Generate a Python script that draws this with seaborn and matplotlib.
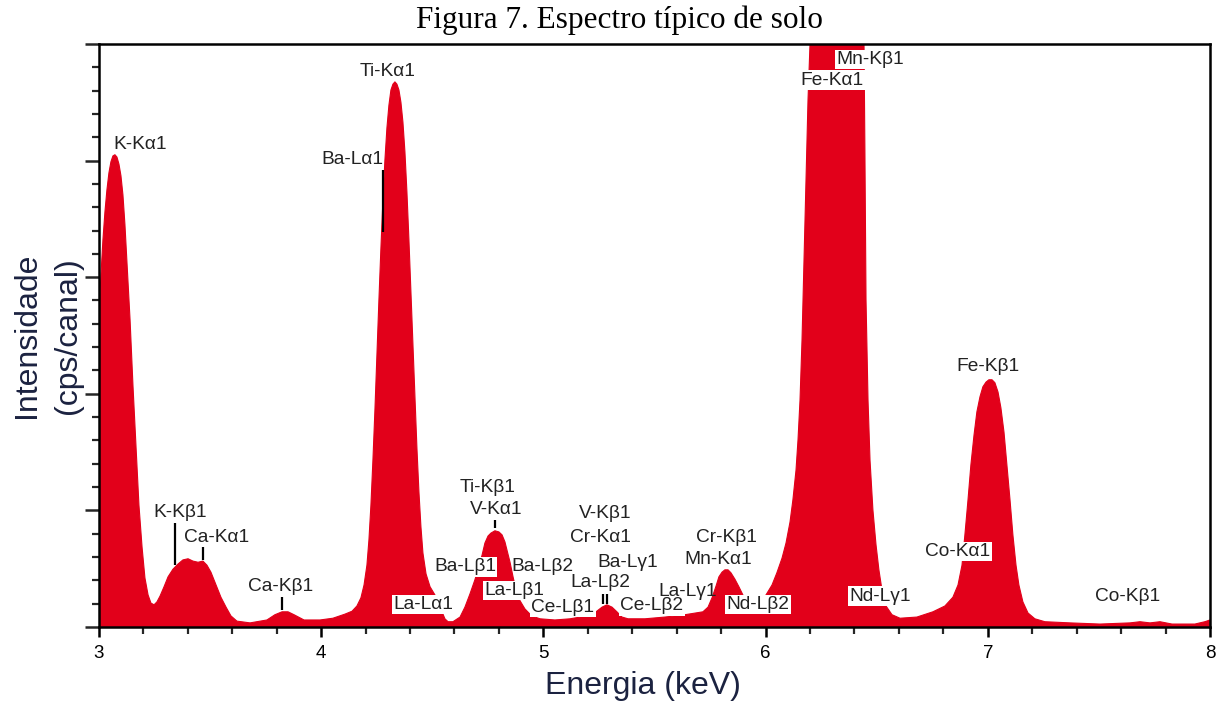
import matplotlib
matplotlib.use("Agg")
import matplotlib.pyplot as plt
import seaborn as sns
from matplotlib.ticker import MultipleLocator, NullFormatter

# spectrum (energy in keV, intensity on a 0-100 scale = full axis height)
energy = [
    # K-Ka1
    3.000, 3.009, 3.018, 3.027, 3.036, 3.045, 3.054, 3.063, 3.072, 3.081, 3.090, 3.099, 3.108,
    3.117, 3.126, 3.140, 3.153, 3.167, 3.180, 3.194, 3.207, 3.221, 3.234, 3.248, 3.261,
    # K-Kb1 / Ca
    3.275, 3.293, 3.311, 3.333, 3.356, 3.378, 3.401, 3.423, 3.446, 3.468, 3.486, 3.504, 3.527,
    3.549, 3.572, 3.594, 3.621, 3.680, 3.756, 3.792, 3.824, 3.851, 3.878, 3.923, 3.995, 4.053,
    # Ti-Ka1
    4.107, 4.139, 4.161, 4.179, 4.193, 4.206, 4.215, 4.224, 4.233, 4.242, 4.251, 4.260, 4.269,
    4.278, 4.287, 4.296, 4.305, 4.314, 4.323, 4.332, 4.341, 4.350, 4.359, 4.368, 4.377, 4.386,
    4.395, 4.404, 4.413, 4.422, 4.431, 4.440, 4.449, 4.458, 4.472, 4.490, 4.512, 4.530, 4.544,
    4.557, 4.571, 4.593,
    # Ti-Kb1 / V-Ka1
    4.625, 4.647, 4.670, 4.692, 4.710, 4.724, 4.737, 4.751, 4.764, 4.782, 4.800, 4.814, 4.827,
    4.836, 4.850, 4.863, 4.877, 4.895, 4.917, 4.940, 4.962, 4.985,
    # 5 - 5.7 keV
    5.052, 5.120, 5.196, 5.237, 5.264, 5.286, 5.309, 5.331, 5.354, 5.381, 5.457, 5.547, 5.637,
    # Mn-Ka1
    5.718, 5.741, 5.759, 5.777, 5.790, 5.804, 5.817, 5.831, 5.844, 5.862, 5.880, 5.903, 5.925,
    5.952, 5.975, 6.002,
    # Fe-Ka1
    6.029, 6.051, 6.074, 6.092, 6.110, 6.123, 6.137, 6.146, 6.155, 6.164, 6.173, 6.182, 6.191,
    6.200, 6.218, 6.326, 6.434, 6.443, 6.447, 6.452, 6.461, 6.470, 6.483, 6.497, 6.510, 6.524,
    6.542, 6.569, 6.605,
    # Fe-Kb1
    6.681, 6.753, 6.807, 6.843, 6.866, 6.884, 6.897, 6.911, 6.924, 6.938, 6.951, 6.965, 6.978,
    6.992, 7.005, 7.019, 7.032, 7.046, 7.059, 7.073, 7.086, 7.100, 7.113, 7.127, 7.140, 7.158,
    7.181, 7.212, 7.257,
    # tail
    7.370, 7.505, 7.640, 7.685, 7.730, 7.775, 7.829, 7.932, 7.977, 8.000,
]
intensity = [
    53.0, 60.4, 66.4, 71.2, 75.0, 77.9, 79.8, 80.8, 81.0, 80.6, 79.4, 77.4, 74.1,
    69.0, 62.6, 52.7, 41.5, 30.7, 20.9, 13.7, 8.4, 5.5, 4.1, 3.8, 4.3,
    5.3, 6.9, 8.6, 9.9, 10.8, 11.5, 11.7, 11.3, 11.1, 11.3, 10.6, 9.4, 7.2,
    5.1, 3.4, 1.9, 1.0, 0.7, 1.2, 2.1, 2.6, 2.6, 2.1, 1.2, 1.2, 1.5,
    2.2, 2.7, 3.6, 5.0, 7.2, 10.6, 14.9, 20.9, 28.6, 37.2, 46.7, 56.1, 65.0,
    73.2, 80.1, 85.6, 89.5, 92.1, 93.1, 93.5, 93.1, 92.1, 90.0, 86.6, 81.5, 74.6,
    66.4, 57.5, 48.4, 39.3, 30.7, 23.2, 17.2, 12.7, 9.1, 6.9, 5.5, 4.3, 2.6,
    1.4, 0.9, 0.9,
    1.7, 3.4, 5.7, 8.1, 10.5, 12.3, 14.4, 15.6, 16.1, 16.5, 16.3, 15.8, 14.6,
    13.2, 11.1, 8.7, 6.3, 4.5, 3.1, 2.2, 1.7, 1.4,
    1.2, 1.4, 1.9, 2.6, 3.4, 3.8, 3.4, 2.6, 1.7, 1.4, 1.4, 1.7, 2.1,
    2.6, 3.4, 5.0, 7.0, 8.6, 9.4, 9.8, 9.8, 9.3, 8.2, 6.9, 5.1, 3.9,
    3.6, 4.3, 5.5,
    7.2, 9.3, 11.8, 14.4, 18.0, 21.8, 26.9, 32.1, 38.9, 49.2, 62.9, 76.7, 90.4,
    100.0, 111.0, 126.4, 111.0, 100.0, 81.8, 56.1, 38.9, 28.6, 20.1, 14.1, 9.8, 6.3,
    3.6, 2.1, 1.5,
    1.7, 2.6, 3.6, 5.1, 7.2, 10.6, 15.8, 21.8, 27.8, 32.9, 36.9, 39.5, 41.2,
    42.0, 42.4, 42.4, 41.9, 40.3, 37.6, 33.4, 27.8, 21.8, 15.8, 10.6, 7.2, 4.3,
    2.4, 1.4, 0.9,
    0.7, 0.5, 0.7, 0.9, 0.7, 0.9, 0.5, 0.5, 0.9, 1.2,
]

# peak labels: text, x, y, white box behind or not
label_text = ["K-K\u03b11", "Ti-K\u03b11", "Ba-L\u03b11", "K-K\u03b21", "Ca-K\u03b11",
              "Ca-K\u03b21", "Ti-K\u03b21", "V-K\u03b11", "Ba-L\u03b21", "Ba-L\u03b22",
              "La-L\u03b21", "La-L\u03b11", "Ce-L\u03b21", "V-K\u03b21", "Cr-K\u03b11",
              "Ba-L\u03b31", "La-L\u03b22", "Ce-L\u03b22", "La-L\u03b31", "Cr-K\u03b21",
              "Mn-K\u03b11", "Nd-L\u03b22", "Fe-K\u03b11", "Mn-K\u03b21", "Nd-L\u03b31",
              "Co-K\u03b11", "Fe-K\u03b21", "Co-K\u03b21"]
label_x = [3.185, 4.301, 4.139, 3.365, 3.531, 3.819, 4.751, 4.787, 4.647, 4.998,
           4.868, 4.458, 5.088, 5.277, 5.255, 5.381, 5.255, 5.489, 5.651, 5.822,
           5.786, 5.966, 6.299, 6.470, 6.515, 6.866, 7.001, 7.631]
label_y = [82.7, 95.2, 80.1, 19.6, 15.3, 6.9, 24.0, 20.1, 10.3, 10.3,
           6.2, 3.8, 3.4, 19.4, 15.4, 11.1, 7.7, 3.6, 6.0, 15.4,
           11.5, 3.8, 93.8, 97.3, 5.3, 13.0, 44.6, 5.3]
label_box = [False, False, False, False, False, False, False, False, True, False,
             True, True, True, False, False, False, False, True, False, False,
             False, True, True, True, True, True, False, False]

# small marker lines under some labels
mark_x = [4.278, 3.342, 3.468, 3.824, 4.782, 5.268, 5.286]
mark_y0 = [67.8, 10.6, 11.5, 2.9, 17.0, 3.9, 3.9]
mark_y1 = [78.4, 17.8, 13.7, 5.1, 18.4, 5.7, 5.7]

red = "#e2001a"
navy = "#1b2240"

sns.set_theme(style="white")
plt.rcParams["font.family"] = ["Liberation Sans", "DejaVu Sans"]

fig = plt.figure(figsize=(12.2, 7.07), dpi=100)
ax = fig.add_axes([0.0811, 0.1132, 0.9107, 0.8246])

ax.fill_between(energy, 0, intensity, color=red, lw=0)
sns.lineplot(x=energy, y=intensity, color=red, lw=0.8, ax=ax, sort=False)

ax.vlines(mark_x, mark_y0, mark_y1, color="black", lw=1.6, zorder=4)

for t, x, y, b in zip(label_text, label_x, label_y, label_box):
    kw = {}
    if b:
        kw["bbox"] = dict(facecolor="white", edgecolor="none", pad=0.8)
    ax.text(x, y, t, ha="center", va="center", fontsize=13.8, color="#222222",
            zorder=5, **kw)

ax.set_xlim(3, 8)
ax.set_ylim(0, 100)
ax.xaxis.set_major_locator(MultipleLocator(1))
ax.xaxis.set_minor_locator(MultipleLocator(0.2))
ax.yaxis.set_major_locator(MultipleLocator(20))
ax.yaxis.set_minor_locator(MultipleLocator(4))
ax.yaxis.set_major_formatter(NullFormatter())
ax.tick_params(axis="x", which="major", direction="out", length=7, width=1.8,
               labelsize=13.5, pad=6, bottom=True, colors="black")
ax.tick_params(axis="x", which="minor", direction="out", length=5, width=1.6, bottom=True)
ax.tick_params(axis="y", which="major", direction="out", length=10, width=1.8, left=True)
ax.tick_params(axis="y", which="minor", direction="out", length=5, width=1.6, left=True)

for s in ax.spines.values():
    s.set_color("black")
    s.set_linewidth(1.8)

ax.set_xlabel("Energia (keV)", fontsize=23, color=navy)
ax.xaxis.set_label_coords(0.49, -0.075)
ax.set_ylabel("Intensidade\n(cps/canal)", fontsize=23, color=navy, linespacing=1.5)
ax.yaxis.set_label_coords(-0.014, 0.5)

fig.text(0.508, 0.971, "Figura 7. Espectro t\u00edpico de solo", ha="center", va="center",
         fontsize=22.5, family="Liberation Serif", color="black")

fig.savefig("out.png", dpi=100)
